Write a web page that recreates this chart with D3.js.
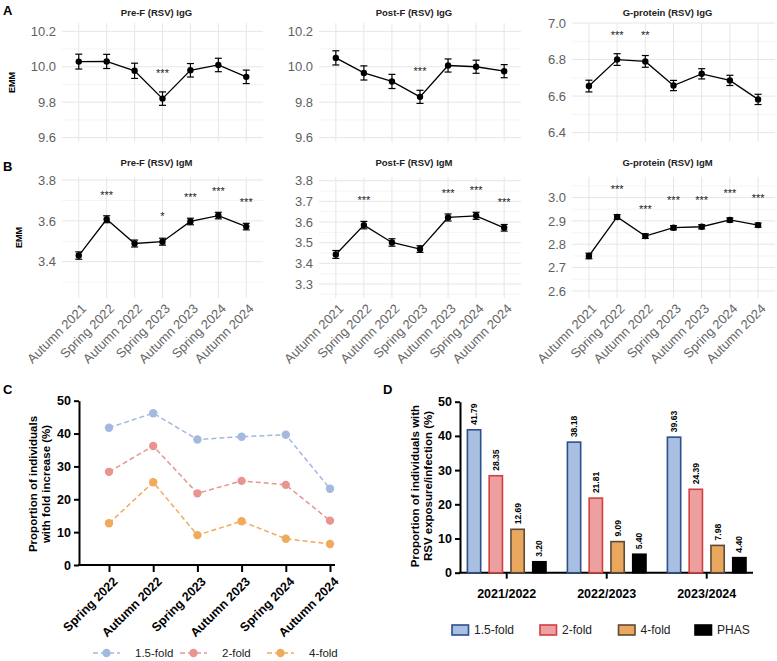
<!DOCTYPE html>
<html>
<head>
<meta charset="utf-8">
<script src="https://cdn.jsdelivr.net/npm/d3@7"></script>
<style>
  body { margin: 0; background: #fff; }
  text { font-family: "Liberation Sans", Arial, sans-serif; }
</style>
</head>
<body>
<script>
// ---- data: panels A/B (estimated marginal means) ----
var seasons = ["Autumn 2021", "Spring 2022", "Autumn 2022", "Spring 2023", "Autumn 2023", "Spring 2024", "Autumn 2024"];

var preFIgG    = [10.029, 10.03, 9.977, 9.82, 9.98, 10.01, 9.943];
var preFIgGErr = [0.042, 0.04, 0.043, 0.038, 0.038, 0.038, 0.038];
var preFIgGSig = ["", "", "", "***", "", "", ""];
var preFIgGSigY = [null, null, null, 9.977, null, null, null];

var postFIgG    = [10.05, 9.965, 9.917, 9.83, 10.007, 10.0, 9.975];
var postFIgGErr = [0.04, 0.04, 0.04, 0.037, 0.037, 0.037, 0.037];
var postFIgGSig = ["", "", "", "***", "", "", ""];
var postFIgGSigY = [null, null, null, 9.985, null, null, null];

var gIgG    = [6.655, 6.8, 6.79, 6.658, 6.722, 6.686, 6.582];
var gIgGErr = [0.032, 0.032, 0.032, 0.028, 0.028, 0.028, 0.028];
var gIgGSig = ["", "***", "**", "", "", "", ""];
var gIgGSigY = [null, 6.944, 6.944, null, null, null, null];

var preFIgM    = [3.43, 3.608, 3.489, 3.498, 3.597, 3.626, 3.572];
var preFIgMErr = [0.018, 0.017, 0.017, 0.017, 0.016, 0.016, 0.016];
var preFIgMSig = ["", "***", "", "*", "***", "***", "***"];
var preFIgMSigY = [null, 3.735, null, 3.634, 3.725, 3.755, 3.70];

var postFIgM    = [3.443, 3.585, 3.501, 3.469, 3.622, 3.63, 3.572];
var postFIgMErr = [0.019, 0.018, 0.018, 0.016, 0.017, 0.017, 0.016];
var postFIgMSig = ["", "***", "", "", "***", "***", "***"];
var postFIgMSigY = [null, 3.718, null, null, 3.75, 3.765, 3.706];

var gIgM    = [2.75, 2.917, 2.835, 2.871, 2.875, 2.904, 2.882];
var gIgMErr = [0.012, 0.01, 0.01, 0.009, 0.009, 0.009, 0.009];
var gIgMSig = ["", "***", "***", "***", "***", "***", "***"];
var gIgMSigY = [null, 3.044, 2.961, 2.996, 2.998, 3.027, 3.006];

// ---- data: panel C ----
var seasonsC = ["Spring 2022", "Autumn 2022", "Spring 2023", "Autumn 2023", "Spring 2024", "Autumn 2024"];
var foldNames = ["1.5-fold", "2-fold", "4-fold"];
var fold15 = [41.79, 46.2, 38.18, 39.05, 39.63, 23.2];
var fold2  = [28.35, 36.2, 21.81, 25.6, 24.39, 13.5];
var fold4  = [12.69, 25.2, 9.09, 13.3, 7.98, 6.4];

// ---- data: panel D ----
var seasonsD = ["2021/2022", "2022/2023", "2023/2024"];
var barNames = ["1.5-fold", "2-fold", "4-fold", "PHAS"];
var bar15  = [41.79, 38.18, 39.63];
var bar2   = [28.35, 21.81, 24.39];
var bar4   = [12.69, 9.09, 7.98];
var barPHAS = [3.20, 5.40, 4.40];

var svg = d3.select("body").append("svg")
    .attr("width", 777)
    .attr("height", 661);

svg.append("rect").attr("width", 777).attr("height", 661).attr("fill", "#fff");

// panel letters
[["A", 3, 15], ["B", 3, 171], ["C", 3, 394], ["D", 383, 394]].forEach(function(l) {
    svg.append("text").attr("x", l[1]).attr("y", l[2]).text(l[0])
        .style("font-weight", "bold").style("font-size", "13px");
});

function emmPanel(o) {
    var x = d3.scalePoint().domain(seasons).range([o.left, o.right]).padding(0.6);
    var y = d3.scaleLinear().domain(o.domain).range([o.bottom, o.top]);
    var g = svg.append("g");

    // minor grid
    g.selectAll(".minor").data(o.minor).enter().append("line")
        .attr("x1", o.left).attr("x2", o.right)
        .attr("y1", function(d) { return y(d); }).attr("y2", function(d) { return y(d); })
        .attr("stroke", "#f1f1f1").attr("stroke-width", 0.8);
    // major grid
    g.selectAll(".major").data(o.ticks).enter().append("line")
        .attr("x1", o.left).attr("x2", o.right)
        .attr("y1", function(d) { return y(d); }).attr("y2", function(d) { return y(d); })
        .attr("stroke", "#e6e6e6").attr("stroke-width", 1);
    g.selectAll(".vgrid").data(seasons).enter().append("line")
        .attr("x1", function(d) { return x(d); }).attr("x2", function(d) { return x(d); })
        .attr("y1", o.top).attr("y2", o.bottom)
        .attr("stroke", "#e6e6e6").attr("stroke-width", 1);

    // y axis labels
    var ax = g.append("g")
        .attr("transform", "translate(" + o.left + ",0)")
        .call(d3.axisLeft(y).tickValues(o.ticks).tickSize(0).tickPadding(6).tickFormat(d3.format(".1f")));
    ax.select(".domain").remove();
    ax.selectAll("text").attr("fill", "#5f5f5f").style("font-size", "13px");

    if (o.emm) {
        g.append("text")
            .attr("transform", "translate(" + o.emmX + "," + ((o.top + o.bottom) / 2) + ") rotate(-90)")
            .attr("text-anchor", "middle")
            .attr("dy", "0.35em")
            .style("font-size", "9px").style("font-weight", "bold")
            .text("EMM");
    }

    // error bars
    var eb = g.selectAll(".eb").data(o.values).enter().append("g");
    eb.append("line")
        .attr("x1", function(d, i) { return x(seasons[i]); })
        .attr("x2", function(d, i) { return x(seasons[i]); })
        .attr("y1", function(d, i) { return y(d - o.err[i]); })
        .attr("y2", function(d, i) { return y(d + o.err[i]); })
        .attr("stroke", "#000").attr("stroke-width", 1.2);
    [-1, 1].forEach(function(s) {
        eb.append("line")
            .attr("x1", function(d, i) { return x(seasons[i]) - 3.5; })
            .attr("x2", function(d, i) { return x(seasons[i]) + 3.5; })
            .attr("y1", function(d, i) { return y(d + s * o.err[i]); })
            .attr("y2", function(d, i) { return y(d + s * o.err[i]); })
            .attr("stroke", "#000").attr("stroke-width", 1.2);
    });

    var line = d3.line()
        .x(function(d, i) { return x(seasons[i]); })
        .y(function(d) { return y(d); });
    g.append("path").datum(o.values)
        .attr("d", line).attr("fill", "none")
        .attr("stroke", "#000").attr("stroke-width", 1.3);

    g.selectAll(".pt").data(o.values).enter().append("circle")
        .attr("cx", function(d, i) { return x(seasons[i]); })
        .attr("cy", function(d) { return y(d); })
        .attr("r", 3.2).attr("fill", "#000");

    // significance stars
    o.sig.forEach(function(s, i) {
        if (s === "") return;
        g.append("text")
            .attr("x", x(seasons[i]))
            .attr("y", y(o.sigY[i]) + 6)
            .attr("text-anchor", "middle")
            .attr("fill", "#222")
            .style("font-size", "11px")
            .text(s);
    });

    // title
    g.append("text")
        .attr("x", (o.left + o.right) / 2 - 6)
        .attr("y", o.titleY)
        .attr("text-anchor", "middle")
        .style("font-size", "9.5px").style("font-weight", "bold")
        .attr("fill", "#222")
        .text(o.title);

    if (o.xlabels) {
        g.selectAll(".xl").data(seasons).enter().append("text")
            .attr("transform", function(d) { return "translate(" + (x(d) + 2) + "," + (o.bottom + 5) + ") rotate(-45)"; })
            .attr("text-anchor", "end")
            .attr("dy", "0.7em")
            .attr("fill", "#666")
            .style("font-size", "13px")
            .text(function(d) { return d; });
    }
}

var colLeft = [62, 319, 572], colRight = [263, 521, 775];

emmPanel({left: colLeft[0], right: colRight[0], top: 23, bottom: 142, domain: [9.575, 10.247],
    ticks: [9.6, 9.8, 10.0, 10.2], minor: [9.7, 9.9, 10.1],
    values: preFIgG, err: preFIgGErr, sig: preFIgGSig, sigY: preFIgGSigY,
    title: "Pre-F (RSV) IgG", titleY: 16, emm: true, emmX: 12});
emmPanel({left: colLeft[1], right: colRight[1], top: 23, bottom: 142, domain: [9.575, 10.247],
    ticks: [9.6, 9.8, 10.0, 10.2], minor: [9.7, 9.9, 10.1],
    values: postFIgG, err: postFIgGErr, sig: postFIgGSig, sigY: postFIgGSigY,
    title: "Post-F (RSV) IgG", titleY: 16});
emmPanel({left: colLeft[2], right: colRight[2], top: 23, bottom: 142, domain: [6.349, 7.0],
    ticks: [6.4, 6.6, 6.8, 7.0], minor: [6.5, 6.7, 6.9],
    values: gIgG, err: gIgGErr, sig: gIgGSig, sigY: gIgGSigY,
    title: "G-protein (RSV) IgG", titleY: 16});

emmPanel({left: colLeft[0], right: colRight[0], top: 177, bottom: 298, domain: [3.222, 3.815],
    ticks: [3.4, 3.6, 3.8], minor: [3.3, 3.5, 3.7],
    values: preFIgM, err: preFIgMErr, sig: preFIgMSig, sigY: preFIgMSigY,
    title: "Pre-F (RSV) IgM", titleY: 166, emm: true, emmX: 19, xlabels: true});
emmPanel({left: colLeft[1], right: colRight[1], top: 177, bottom: 298, domain: [3.232, 3.818],
    ticks: [3.3, 3.4, 3.5, 3.6, 3.7, 3.8], minor: [3.25, 3.35, 3.45, 3.55, 3.65, 3.75],
    values: postFIgM, err: postFIgMErr, sig: postFIgMSig, sigY: postFIgMSigY,
    title: "Post-F (RSV) IgM", titleY: 166, xlabels: true});
emmPanel({left: colLeft[2], right: colRight[2], top: 177, bottom: 298, domain: [2.570, 3.088],
    ticks: [2.6, 2.7, 2.8, 2.9, 3.0], minor: [2.65, 2.75, 2.85, 2.95, 3.05],
    values: gIgM, err: gIgMErr, sig: gIgMSig, sigY: gIgMSigY,
    title: "G-protein (RSV) IgM", titleY: 166, xlabels: true});

// ---- Panel C ----
var colorsC = {"1.5-fold": "#a3b9dd", "2-fold": "#e89591", "4-fold": "#f0aa5c"};
var seriesC = [fold15, fold2, fold4];
var xC = d3.scalePoint().domain(seasonsC).range([109, 330]);
var yC = d3.scaleLinear().domain([0, 50]).range([565, 400.7]);

var gC = svg.append("g");
var yAxC = gC.append("g").attr("transform", "translate(79,0)")
    .call(d3.axisLeft(yC).tickValues([0, 10, 20, 30, 40, 50]).tickSize(5).tickSizeOuter(0).tickPadding(3));
var xAxC = gC.append("g").attr("transform", "translate(0,565)")
    .call(d3.axisBottom(xC).tickSize(7).tickSizeOuter(0).tickFormat(""));
xAxC.select(".domain").remove();
gC.append("line").attr("x1", 78).attr("x2", 335).attr("y1", 565).attr("y2", 565)
    .attr("stroke", "#000").attr("stroke-width", 2);
[yAxC, xAxC].forEach(function(a) {
    a.selectAll("path, line").attr("stroke", "#000").attr("stroke-width", 2);
    a.selectAll("text").attr("fill", "#000").style("font-size", "12.5px").style("font-weight", "bold");
});

gC.selectAll(".xlc").data(seasonsC).enter().append("text")
    .attr("transform", function(d) { return "translate(" + (xC(d) + 3) + ",576) rotate(-45)"; })
    .attr("text-anchor", "end")
    .attr("dy", "0.72em")
    .style("font-size", "12.5px").style("font-weight", "bold")
    .text(function(d) { return d; });

gC.append("text")
    .attr("transform", "translate(39,484) rotate(-90)")
    .attr("text-anchor", "middle")
    .style("font-size", "11.5px").style("font-weight", "bold")
    .selectAll("tspan").data(["Proportion of individuals", "with fold increase (%)"]).enter().append("tspan")
    .attr("x", 0).attr("dy", function(d, i) { return i === 0 ? "-0.15em" : "1.1em"; })
    .text(function(d) { return d; });

var lineC = d3.line()
    .x(function(d, i) { return xC(seasonsC[i]); })
    .y(function(d) { return yC(d); });
seriesC.forEach(function(s, k) {
    var col = colorsC[foldNames[k]];
    gC.append("path").datum(s).attr("d", lineC)
        .attr("fill", "none").attr("stroke", col).attr("stroke-width", 1.5)
        .attr("stroke-dasharray", "5,3");
    gC.selectAll(".c" + k).data(s).enter().append("circle")
        .attr("cx", function(d, i) { return xC(seasonsC[i]); })
        .attr("cy", function(d) { return yC(d); })
        .attr("r", 4.2).attr("fill", col);
});

// legend C
var legC = gC.selectAll(".legc").data(foldNames).enter().append("g")
    .attr("transform", function(d, i) { return "translate(" + [93, 180, 267][i] + ",653)"; });
legC.append("line").attr("x1", 0).attr("x2", 27).attr("y1", 0).attr("y2", 0)
    .attr("stroke", function(d) { return colorsC[d]; }).attr("stroke-width", 1.5)
    .attr("stroke-dasharray", "5,3");
legC.append("circle").attr("cx", 13.5).attr("cy", 0).attr("r", 4.2)
    .attr("fill", function(d) { return colorsC[d]; });
legC.append("text").attr("x", 42).attr("y", 0).attr("dy", "0.35em")
    .attr("fill", "#222").style("font-size", "11.5px")
    .text(function(d) { return d; });

// ---- Panel D ----
var fillD = {"1.5-fold": "#a8bfe1", "2-fold": "#eca0a0", "4-fold": "#eaa75e", "PHAS": "#000"};
var strokeD = {"1.5-fold": "#2c4f8e", "2-fold": "#d3403f", "4-fold": "#5b4a38", "PHAS": "#000"};
var seriesD = [bar15, bar2, bar4, barPHAS];

var xD = d3.scaleBand().domain(seasonsD).range([456.7, 756.7]);
var xSub = d3.scaleBand().domain(barNames).range([-39.3, 39.3]).paddingInner(0.39);
var yD = d3.scaleLinear().domain([0, 50]).range([572.7, 401.7]);

var gD = svg.append("g");
var yAxD = gD.append("g").attr("transform", "translate(460,0)")
    .call(d3.axisLeft(yD).tickValues([0, 10, 20, 30, 40, 50]).tickSize(5).tickSizeOuter(0).tickPadding(3));
var xAxD = gD.append("g").attr("transform", "translate(0,572.7)")
    .call(d3.axisBottom(xD).tickSize(6).tickSizeOuter(0).tickPadding(10));
xAxD.select(".domain").remove();
gD.append("line").attr("x1", 459).attr("x2", 753).attr("y1", 572.7).attr("y2", 572.7)
    .attr("stroke", "#000").attr("stroke-width", 2);
[yAxD, xAxD].forEach(function(a) {
    a.selectAll("path, line").attr("stroke", "#000").attr("stroke-width", 2);
    a.selectAll("text").attr("fill", "#000").style("font-size", "12.5px").style("font-weight", "bold");
});

gD.append("text")
    .attr("transform", "translate(421,486) rotate(-90)")
    .attr("text-anchor", "middle")
    .style("font-size", "11.5px").style("font-weight", "bold")
    .selectAll("tspan").data(["Proportion of individuals with", "RSV exposure/infection (%)"]).enter().append("tspan")
    .attr("x", 0).attr("dy", function(d, i) { return i === 0 ? "-0.15em" : "1.1em"; })
    .text(function(d) { return d; });

seriesD.forEach(function(s, k) {
    var name = barNames[k];
    gD.selectAll(".b" + k).data(s).enter().append("rect")
        .attr("x", function(d, i) { return xD(seasonsD[i]) + xD.bandwidth() / 2 + xSub(name); })
        .attr("y", function(d) { return yD(d); })
        .attr("width", xSub.bandwidth())
        .attr("height", function(d) { return yD(0) - yD(d); })
        .attr("fill", fillD[name]).attr("stroke", strokeD[name]).attr("stroke-width", 1.6);
    gD.selectAll(".bl" + k).data(s).enter().append("text")
        .attr("transform", function(d, i) {
            var cx = xD(seasonsD[i]) + xD.bandwidth() / 2 + xSub(name) + xSub.bandwidth() / 2;
            return "translate(" + cx + "," + (yD(d) - 5) + ") rotate(-90)";
        })
        .attr("dy", "0.35em")
        .style("font-size", "8.5px").style("font-weight", "bold")
        .text(function(d) { return d3.format(".2f")(d); });
});

// legend D
var legD = gD.selectAll(".legd").data(barNames).enter().append("g")
    .attr("transform", function(d, i) { return "translate(" + [452, 540, 618.5, 695][i] + ",625)"; });
legD.append("rect").attr("width", 16.5).attr("height", 10)
    .attr("fill", function(d) { return fillD[d]; })
    .attr("stroke", function(d) { return strokeD[d]; }).attr("stroke-width", 1.6);
legD.append("text").attr("x", 22).attr("y", 5).attr("dy", "0.35em")
    .attr("fill", "#222").style("font-size", "12px")
    .text(function(d) { return d; });
</script>
</body>
</html>
